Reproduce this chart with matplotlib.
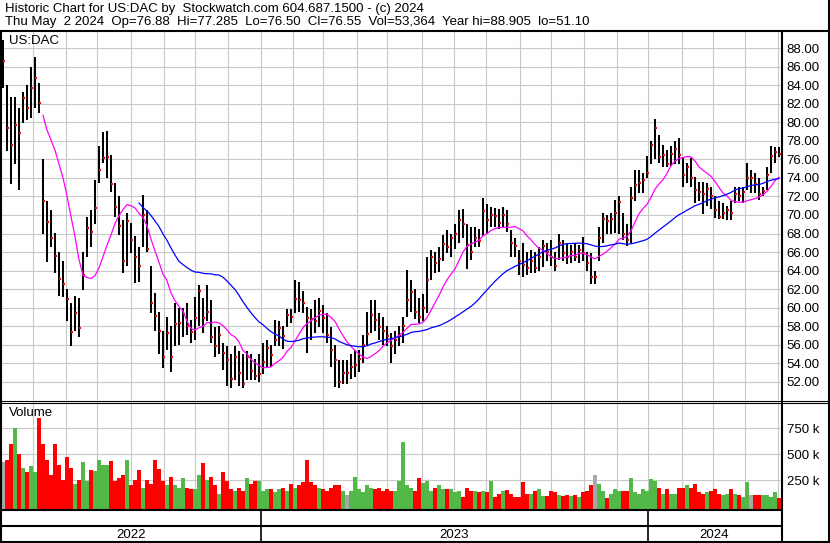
import numpy as np
import pandas as pd
import matplotlib
matplotlib.use('Agg')
import matplotlib.pyplot as plt

plt.rcParams['font.family'] = ['Liberation Sans', 'DejaVu Sans']

W, H = 830, 543

title = 'Historic Chart for US:DAC by  Stockwatch.com 604.687.1500 - (c) 2024'
info = ('Thu May  2 2024  Op=76.88  Hi=77.285  Lo=76.50  Cl=76.55  '
        'Vol=53,364  Year hi=88.905  lo=51.10')
symbol = 'US:DAC'

first_day, last_day = '2022-05-04', '2024-05-02'

# one sample every ~2.7 trading days
close = [86.6, 79.4, 77.6, 79.7, 78.8, 82.6, 81.5, 83.7, 84.8, 82.1,
         71.5, 69.2, 67.5, 65.6, 63.1, 62.6, 60.9, 57.4, 59.4, 57.8,
         63.5, 68.6, 68.2, 70.8, 74.9, 76.2, 76.3, 73.3, 70.9, 68.8,
         65.0, 69.3, 67.3, 65.5, 64.5, 70.0, 66.3, 60.5, 59.1, 57.5,
         54.7, 57.3, 54.7, 58.2, 58.3, 59.3, 58.0, 57.4, 58.9, 61.8,
         58.9, 59.5, 56.8, 55.8, 57.0, 55.1, 54.3, 52.3, 54.7, 52.9,
         51.8, 54.7, 53.1, 52.6, 52.8, 54.1, 55.6, 54.9, 56.5, 57.8,
         56.9, 59.2, 59.0, 60.9, 60.8, 60.5, 58.9, 58.8, 58.5, 59.6,
         58.9, 57.0, 55.4, 54.3, 52.0, 52.9, 52.9, 53.6, 53.8, 54.5,
         56.0, 57.2, 59.2, 58.7, 57.9, 57.5, 56.9, 55.8, 56.5, 56.9,
         58.0, 60.8, 61.7, 59.5, 59.0, 60.0, 63.0, 65.5, 64.8, 65.2,
         66.9, 66.5, 67.5, 68.0, 69.5, 69.0, 66.8, 66.0, 67.5, 67.2,
         70.4, 69.5, 70.0, 69.9, 69.1, 70.0, 69.0, 67.0, 66.7, 65.0,
         64.6, 64.3, 65.0, 64.3, 65.5, 66.6, 66.0, 65.5, 64.5, 67.0,
         65.9, 65.5, 66.0, 65.5, 66.2, 65.9, 64.8, 63.3, 63.3, 67.5,
         69.6, 69.3, 69.6, 70.2, 71.4, 68.0, 67.3, 71.8, 73.2, 73.5,
         73.8, 74.5, 77.6, 79.4, 76.3, 76.5, 75.5, 76.6, 77.1, 76.5,
         74.3, 75.2, 74.0, 72.7, 72.5, 72.3, 72.8, 72.0, 70.5, 69.8,
         70.2, 70.5, 70.2, 72.3, 72.1, 72.5, 74.0, 74.0, 73.3, 72.3,
         72.6, 74.3, 76.4, 76.8, 76.55]

high = [88.9, 84.0, 82.7, 82.7, 81.6, 83.3, 84.0, 86.0, 87.1, 84.3,
        76.0, 71.5, 70.5, 68.1, 66.0, 65.0, 62.0, 60.5, 61.2, 61.0,
        66.0, 69.8, 70.5, 73.8, 77.5, 79.0, 79.1, 76.5, 73.5, 72.0,
        69.5, 70.2, 69.1, 67.7, 66.5, 72.2, 70.5, 64.5, 61.6, 59.5,
        57.5, 59.0, 58.0, 60.5, 60.0, 60.0, 60.5, 58.7, 61.1, 62.4,
        61.0, 62.4, 60.8, 57.9, 58.0, 56.2, 55.8, 55.0, 55.8, 55.3,
        55.0, 55.3, 55.0, 54.5, 55.0, 56.2, 56.5, 56.0, 58.7, 58.5,
        58.0, 59.8, 59.9, 63.0, 62.8, 61.8, 60.1, 59.8, 60.8, 61.0,
        60.3, 59.4, 57.9, 56.0, 54.3, 54.3, 54.3, 55.0, 55.4, 55.4,
        57.0, 59.5, 60.8, 60.8, 59.4, 59.0, 58.0, 57.3, 57.5, 58.0,
        59.0, 64.1, 63.0, 62.0, 61.0, 61.5, 65.5, 66.2, 66.0, 66.5,
        67.8, 68.4, 68.0, 69.0, 70.5, 70.6, 69.0, 68.7, 68.7, 68.5,
        71.8, 71.2, 70.9, 70.8, 70.6, 70.9, 70.5, 68.4, 67.5, 66.2,
        67.0, 66.0, 66.2, 66.0, 66.5, 67.3, 67.0, 67.3, 66.0, 68.0,
        67.3, 67.0, 66.8, 67.0, 66.8, 67.6, 66.0, 65.9, 64.0, 68.7,
        70.2, 70.0, 70.2, 71.6, 72.0, 70.2, 69.0, 73.0, 74.9, 74.9,
        74.5, 76.4, 78.0, 80.4, 78.6, 77.6, 77.0, 77.5, 78.0, 78.3,
        76.3, 75.6, 76.1, 74.1, 73.6, 73.6, 73.4, 73.0, 72.0, 71.5,
        71.3, 71.0, 71.5, 73.0, 73.0, 73.0, 75.6, 74.9, 74.5, 74.0,
        73.0, 75.2, 77.4, 77.3, 77.3]

low = [83.7, 76.9, 73.3, 75.5, 72.7, 79.9, 80.3, 80.5, 81.5, 81.0,
       68.0, 64.9, 66.5, 63.7, 61.3, 61.1, 58.5, 55.8, 57.5, 56.8,
       61.9, 65.5, 66.5, 69.0, 73.4, 75.6, 74.0, 72.5, 69.8, 67.8,
       63.7, 64.5, 65.9, 62.7, 62.8, 66.5, 66.0, 59.4, 57.5, 55.0,
       53.5, 55.4, 53.0, 55.8, 56.0, 56.8, 57.0, 56.2, 56.5, 58.0,
       57.3, 58.5, 56.2, 54.7, 55.0, 53.3, 51.5, 51.3, 52.2, 51.5,
       51.3, 52.2, 52.2, 52.2, 52.0, 52.8, 53.6, 53.6, 55.8, 55.8,
       55.5, 57.9, 58.3, 59.4, 59.5, 59.4, 55.1, 56.5, 57.3, 57.9,
       57.3, 56.2, 53.6, 51.4, 51.3, 51.8, 51.8, 52.3, 52.5, 53.0,
       54.0, 56.0, 57.3, 57.5, 56.5, 56.0, 55.8, 54.0, 55.0, 55.8,
       56.2, 59.0, 59.5, 58.8, 58.3, 58.5, 59.4, 63.0, 63.7, 63.8,
       65.0, 65.9, 65.5, 66.3, 67.0, 67.5, 64.2, 65.1, 66.5, 66.5,
       67.7, 68.0, 68.7, 68.7, 68.5, 68.7, 68.2, 65.5, 65.5, 63.5,
       63.3, 63.5, 63.7, 63.7, 64.0, 64.4, 65.0, 64.5, 64.0, 65.1,
       65.0, 64.7, 64.8, 65.0, 64.8, 65.0, 64.0, 62.5, 62.6, 65.0,
       67.0, 68.0, 68.0, 68.1, 68.0, 67.3, 66.6, 67.0, 71.5, 72.4,
       72.4, 74.0, 75.5, 76.0, 75.6, 75.2, 75.2, 75.3, 75.5, 75.5,
       73.0, 73.5, 73.0, 71.3, 71.5, 70.1, 71.0, 70.6, 69.7, 69.6,
       69.6, 69.5, 69.5, 71.3, 71.5, 71.3, 72.7, 72.4, 72.4, 71.6,
       72.0, 72.7, 74.5, 75.6, 76.3]

# volume in thousands of shares
volume = [430, 450, 600, 750, 500, 370, 330, 390, 330, 850,
          600, 450, 300, 600, 400, 250, 470, 370, 210, 250,
          430, 240, 350, 340, 450, 400, 400, 440, 240, 270,
          300, 450, 200, 250, 350, 180, 250, 210, 450, 360,
          240, 200, 280, 200, 180, 270, 180, 170, 170, 300,
          420, 250, 280, 200, 120, 330, 240, 170, 150, 180,
          150, 270, 210, 240, 240, 150, 170, 170, 140, 170,
          180, 150, 210, 180, 200, 230, 450, 230, 200, 180,
          170, 150, 180, 200, 200, 150, 110, 150, 280, 170,
          140, 200, 180, 170, 180, 150, 170, 150, 150, 240,
          620, 200, 180, 150, 270, 220, 240, 150, 180, 200,
          170, 170, 170, 140, 150, 90, 180, 150, 150, 140,
          150, 140, 240, 90, 120, 150, 160, 120, 90, 90,
          230, 120, 120, 150, 170, 100, 100, 150, 140, 110,
          100, 110, 100, 110, 90, 140, 150, 200, 300, 210,
          150, 80, 120, 170, 150, 150, 150, 270, 140, 120,
          170, 150, 260, 240, 180, 120, 170, 120, 120, 180,
          180, 200, 180, 210, 140, 120, 140, 150, 170, 120,
          110, 120, 170, 120, 110, 90, 230, 110, 110, 110,
          110, 110, 90, 140, 80]

price_ticks = np.arange(52, 89, 2)
vol_ticks = [250, 500, 750]
years = [2022, 2023, 2024]

n = len(close)
x = np.arange(n)
days = pd.bdate_range(first_day, last_day)
scale = (n - 1) / (len(days) - 1)


def day_pos(d):
    return days.searchsorted(pd.Timestamp(d)) * scale


month_pos = [day_pos(m) for m in pd.date_range('2022-06-01', last_day, freq='MS')]
year_pos = [day_pos(f'{y}-01-01') for y in years[1:]]

c = pd.Series(close)
ma_fast = c.rolling(11).mean()
ma_slow = c.rolling(35).mean()

diff = np.diff(close, prepend=np.nan)
vol_colors = np.where(diff > 0, '#52B848', np.where(diff < 0, '#FF0000', '#A8A8A8'))

grid_c = '#C8C8C8'
fs = 9.5

fig = plt.figure(figsize=(W / 100, H / 100), dpi=100)


def box(top, bottom, left=2, right=781):
    return [left / W, 1 - bottom / H, (right - left) / W, (bottom - top) / H]


ax = fig.add_axes(box(32, 400))
axv = fig.add_axes(box(402, 509), sharex=ax)
axy = fig.add_axes(box(509, 541), sharex=ax)

span = (n - 1) * 779 / 776
xmin = -span / 779
ax.set_xlim(xmin, xmin + span)

# price panel
for p in price_ticks:
    ax.axhline(p, color=grid_c, lw=0.8, zorder=0)
for m in month_pos:
    ax.axvline(m, color=grid_c, lw=0.8, zorder=0)
    axv.axvline(m, color=grid_c, lw=0.8, zorder=0)

ax.vlines(x, low, high, color='black', lw=1.45, zorder=2)
ax.hlines(close, x, x + 0.42, color='red', lw=1.6, zorder=3)
ax.plot(x, ma_fast, color='#FF00FF', lw=0.9, zorder=4)
ax.plot(x, ma_slow, color='#0000FF', lw=0.9, zorder=4)
ax.set_ylim(50.02, 89.76)
ax.set_yticks(price_ticks, [f'{p:.2f}' for p in price_ticks])

# volume panel
for v in vol_ticks:
    axv.axhline(v, color=grid_c, lw=0.8, zorder=0)
axv.bar(x, np.array(volume) + 26, bottom=-26, width=0.95, color=vol_colors, zorder=2)
axv.set_ylim(-26, 1003)
axv.set_yticks(vol_ticks, [f'{v} k' for v in vol_ticks])

for a in (ax, axv):
    a.yaxis.tick_right()
    a.tick_params(axis='y', length=0, pad=4, labelsize=fs)
    a.tick_params(axis='x', bottom=False, labelbottom=False)
    for s in a.spines.values():
        s.set_visible(False)

# year strip
axy.set_ylim(0, 1)
axy.axis('off')
axy.axhline(0.47, color='black', lw=1.5)
axy.vlines(year_pos, 0, 1, color='black', lw=1.2)
bounds = [xmin] + year_pos + [xmin + span]
for y, a0, a1 in zip(years, bounds[:-1], bounds[1:]):
    axy.text((a0 + a1) / 2, 0.2, str(y), ha='center', va='center', fontsize=fs)

fig.text(5 / W, 1 - 9 / H, title, va='center', fontsize=fs)
fig.text(5 / W, 1 - 22 / H, info, va='center', fontsize=fs)
fig.text(9 / W, 1 - 41 / H, symbol, va='center', fontsize=fs)
fig.text(9 / W, 1 - 413 / H, 'Volume', va='center', fontsize=fs)

# frame
ov = fig.add_axes([0, 0, 1, 1], zorder=10)
ov.set_xlim(0, W)
ov.set_ylim(H, 0)
ov.axis('off')
ov.patch.set_alpha(0)
k = dict(color='black', solid_capstyle='butt')
ov.plot([0, W], [31, 31], lw=1.5, **k)
ov.plot([0, W], [541.5, 541.5], lw=1.5, **k)
ov.plot([1, 1], [31, 542], lw=1.5, **k)
ov.plot([828.5, 828.5], [0, 542], lw=1.5, **k)
ov.plot([781.5, 781.5], [31, 542], lw=1.5, **k)
ov.plot([0, W], [400.5, 400.5], lw=0.8, **k)
ov.plot([0, W], [402.5, 402.5], lw=0.8, **k)
ov.plot([0, 781], [509.5, 509.5], lw=1.5, **k)

fig.savefig('out.png', dpi=100)
